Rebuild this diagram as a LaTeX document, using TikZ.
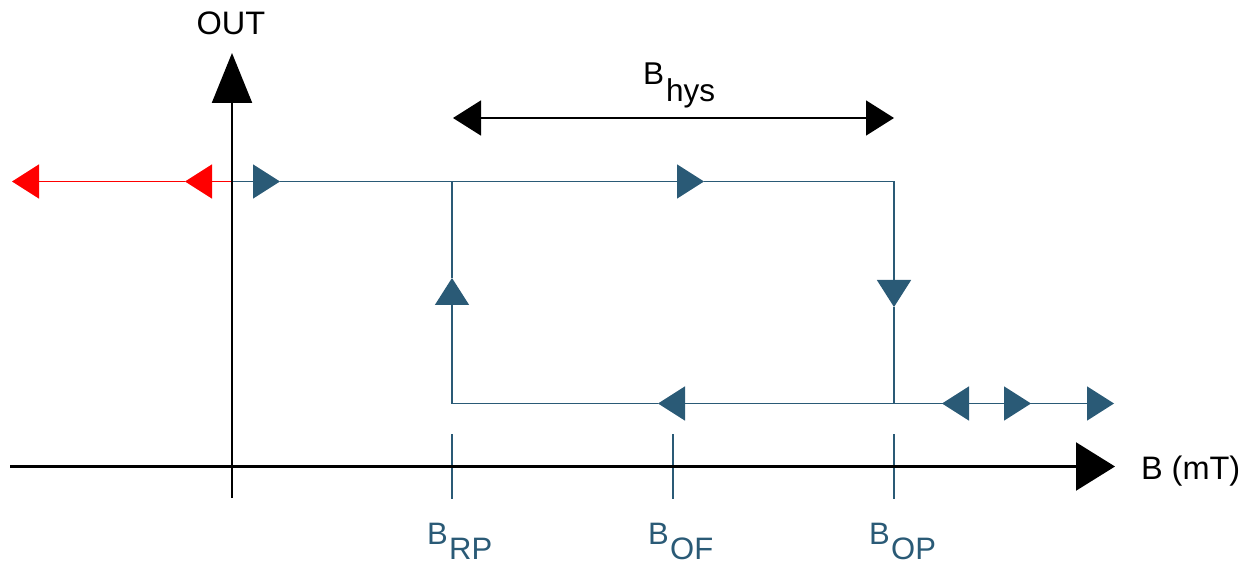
\documentclass[tikz,border=0pt]{standalone}
\usepackage{fontspec}
\setmainfont{Liberation Sans}
\usetikzlibrary{arrows.meta}
\definecolor{loopblue}{RGB}{42,90,118}
\begin{document}
\begin{tikzpicture}[x=1pt,y=-1pt,
  every node/.style={font=\fontsize{31}{36}\selectfont, inner sep=0pt, outer sep=0pt},
  biglabel/.style={font=\fontsize{32.5}{38}\selectfont},
  axisline/.style={black, line width=2.2pt},
  loopline/.style={loopblue, line width=1.5pt},
  redline/.style={red, line width=1.5pt},
  hysline/.style={black, line width=1.5pt},
  tickline/.style={loopblue, line width=2pt},
  midtip/.style={-{Triangle[length=27pt,width=34pt]}},
  bluelabel/.style={text=loopblue, anchor=base west},
]
\useasboundingbox (0,0) rectangle (1253,561);

% coordinates
\coordinate (yb) at (232,498);
\coordinate (yt) at (232,53);
\coordinate (xl) at (10,466.5);
\coordinate (xr) at (1115,466.5);

\coordinate (o)  at (232,181.5);
\coordinate (rm) at (185,181.5);
\coordinate (rl) at (12,181.5);
\coordinate (t1) at (280,181.5);
\coordinate (t2) at (704,181.5);
\coordinate (tl) at (452,181.5);
\coordinate (tr) at (894,181.5);
\coordinate (dn) at (894,307);
\coordinate (br) at (894,403.5);
\coordinate (bm) at (658,403.5);
\coordinate (bl) at (452,403.5);
\coordinate (up) at (452,278);
\coordinate (e1) at (942,403.5);
\coordinate (e2) at (1031,403.5);
\coordinate (e3) at (1114,403.5);

\coordinate (hl) at (453,118);
\coordinate (hr) at (894,118);

\coordinate (k1a) at (452,434); \coordinate (k1b) at (452,499);
\coordinate (k2a) at (673,434); \coordinate (k2b) at (673,499);
\coordinate (k3a) at (894,434); \coordinate (k3b) at (894,499);

% hysteresis loop
\draw[loopline, midtip] (o) -- (t1);
\draw[loopline, midtip] (t1) -- (t2);
\draw[loopline] (t2) -- (tr);
\draw[loopline, midtip] (tr) -- (dn);
\draw[loopline] (dn) -- (br);
\draw[loopline, midtip] (br) -- (bm);
\draw[loopline] (bm) -- (bl);
\draw[loopline, midtip] (bl) -- (up);
\draw[loopline] (up) -- (tl);
\draw[loopline] (br) -- (e1);
\draw[loopline, midtip] (e2) -- (e1);
\draw[loopline, midtip] (e1) -- (e2);
\draw[loopline, midtip] (e2) -- (e3);

% red part
\draw[redline, midtip] (o) -- (rm);
\draw[redline, midtip] (rm) -- (rl);

% B_hys
\draw[hysline, {Triangle[length=28pt,width=35pt]}-{Triangle[length=28pt,width=35pt]}] (hl) -- (hr);

% ticks
\draw[tickline] (k1a) -- (k1b);
\draw[tickline] (k2a) -- (k2b);
\draw[tickline] (k3a) -- (k3b);

% axes
\draw[axisline, -{Triangle[length=39pt,width=48pt]}] (xl) -- (xr);
\draw[axisline, -{Triangle[length=50pt,width=40pt]}] (yb) -- (yt);

% labels
\node[biglabel, anchor=base] (out) at (231,35) {OUT};
\node[biglabel, anchor=base west] (bunit) at (1141,479) {B (mT)};
\node[anchor=base west, font=\fontsize{31.5}{36}\selectfont] (bhys) at (643,85) {B\kern2pt\raisebox{-17pt}{hys}};
\node[bluelabel] (brp) at (427,544) {B\kern1.5pt\raisebox{-15pt}{RP}};
\node[bluelabel] (bof) at (648,544) {B\kern1.5pt\raisebox{-15pt}{OF}};
\node[bluelabel] (bop) at (869,544) {B\kern1.5pt\raisebox{-15pt}{OP}};
\end{tikzpicture}
\end{document}
